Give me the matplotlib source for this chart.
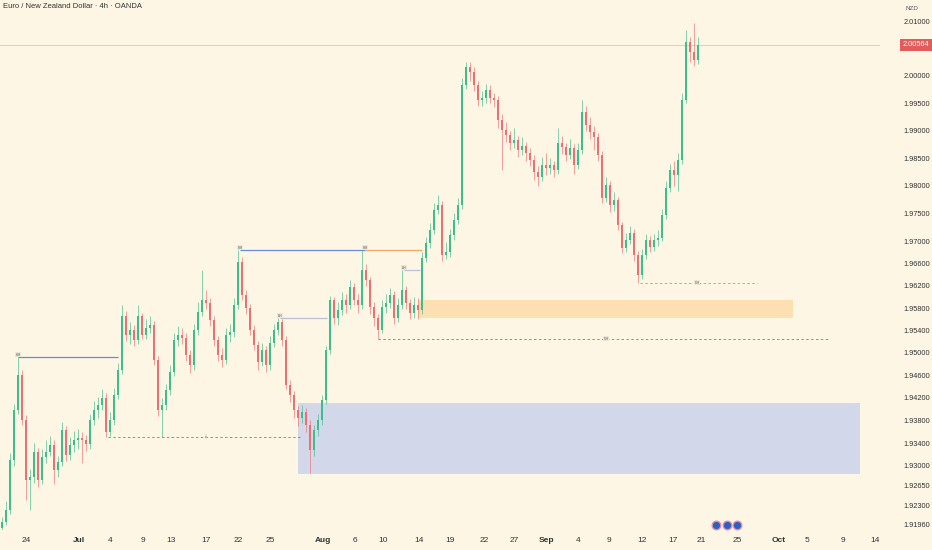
import matplotlib
matplotlib.use("Agg")
import matplotlib.pyplot as plt
from matplotlib.ticker import NullLocator, NullFormatter
from matplotlib.transforms import blended_transform_factory

plt.rcParams['font.family'] = ['Liberation Sans', 'DejaVu Sans']

# EUR/NZD 4h candles (each drawn bar here stands for ~2 real bars)
first_open = 1.9191
closes = [
    1.9201, 1.9222, 1.9310, 1.9399, 1.9461, 1.9381, 1.9275, 1.9280, 1.9324, 1.9275,
    1.9315, 1.9324, 1.9337, 1.9293, 1.9307, 1.9363, 1.9319, 1.9337, 1.9345, 1.9349,
    1.9345, 1.9338, 1.9381, 1.9399, 1.9407, 1.9420, 1.9360, 1.9381, 1.9425, 1.9470,
    1.9566, 1.9532, 1.9541, 1.9523, 1.9566, 1.9532, 1.9544, 1.9550, 1.9487, 1.9399,
    1.9407, 1.9434, 1.9466, 1.9523, 1.9532, 1.9526, 1.9496, 1.9478, 1.9541, 1.9573,
    1.9594, 1.9589, 1.9559, 1.9523, 1.9496, 1.9487, 1.9532, 1.9537, 1.9585, 1.9663,
    1.9603, 1.9580, 1.9541, 1.9514, 1.9484, 1.9505, 1.9478, 1.9518, 1.9541, 1.9555,
    1.9523, 1.9443, 1.9425, 1.9399, 1.9384, 1.9395, 1.9372, 1.9328, 1.9363, 1.9381,
    1.9416, 1.9505, 1.9594, 1.9562, 1.9577, 1.9594, 1.9585, 1.9618, 1.9594, 1.9585,
    1.9648, 1.9630, 1.9582, 1.9562, 1.9541, 1.9582, 1.9589, 1.9603, 1.9562, 1.9585,
    1.9612, 1.9589, 1.9571, 1.9585, 1.9577, 1.9670, 1.9697, 1.9720, 1.9756, 1.9765,
    1.9675, 1.9681, 1.9711, 1.9738, 1.9765, 1.9983, 2.0016, 2.0007, 1.9983, 1.9956,
    1.9959, 1.9974, 1.9959, 1.9956, 1.9919, 1.9901, 1.9892, 1.9877, 1.9883, 1.9865,
    1.9872, 1.9859, 1.9847, 1.9825, 1.9816, 1.9838, 1.9832, 1.9838, 1.9829, 1.9877,
    1.9870, 1.9856, 1.9868, 1.9838, 1.9865, 1.9934, 1.9910, 1.9897, 1.9888, 1.9856,
    1.9778, 1.9801, 1.9765, 1.9774, 1.9729, 1.9688, 1.9702, 1.9715, 1.9675, 1.9639,
    1.9675, 1.9702, 1.9690, 1.9702, 1.9706, 1.9747, 1.9796, 1.9829, 1.9819, 1.9847,
    1.9956, 2.0061, 2.0043, 2.0029, 2.00564,
]
highs = [
    1.9210, 1.9238, 1.9322, 1.9410, 1.9493, 1.9470, 1.9390, 1.9295, 1.9340, 1.9332,
    1.9330, 1.9345, 1.9352, 1.9345, 1.9318, 1.9378, 1.9370, 1.9350, 1.9362, 1.9365,
    1.9360, 1.9355, 1.9392, 1.9415, 1.9422, 1.9436, 1.9428, 1.9395, 1.9438, 1.9482,
    1.9585, 1.9575, 1.9555, 1.9550, 1.9585, 1.9572, 1.9560, 1.9565, 1.9556, 1.9495,
    1.9420, 1.9445, 1.9478, 1.9535, 1.9548, 1.9545, 1.9535, 1.9505, 1.9552, 1.9590,
    1.9648, 1.9612, 1.9598, 1.9565, 1.9530, 1.9508, 1.9545, 1.9552, 1.9598, 1.9684,
    1.9672, 1.9612, 1.9588, 1.9550, 1.9522, 1.9518, 1.9512, 1.9530, 1.9552, 1.9562,
    1.9560, 1.9530, 1.9452, 1.9432, 1.9405, 1.9408, 1.9402, 1.9380, 1.9372, 1.9392,
    1.9425, 1.9512, 1.9602, 1.9600, 1.9590, 1.9608, 1.9605, 1.9630, 1.9625, 1.9605,
    1.9684, 1.9658, 1.9636, 1.9590, 1.9570, 1.9595, 1.9605, 1.9615, 1.9610, 1.9598,
    1.9648, 1.9620, 1.9596, 1.9600, 1.9598, 1.9680, 1.9708, 1.9732, 1.9768, 1.9783,
    1.9772, 1.9698, 1.9722, 1.9750, 1.9778, 1.9995, 2.0025, 2.0025, 2.0015, 1.9990,
    1.9972, 1.9985, 1.9982, 1.9968, 1.9962, 1.9930, 1.9915, 1.9900, 1.9905, 1.9890,
    1.9888, 1.9880, 1.9868, 1.9855, 1.9835, 1.9852, 1.9860, 1.9850, 1.9845, 1.9905,
    1.9890, 1.9878, 1.9885, 1.9875, 1.9878, 1.9956, 1.9945, 1.9925, 1.9908, 1.9895,
    1.9862, 1.9815, 1.9808, 1.9788, 1.9780, 1.9735, 1.9715, 1.9728, 1.9722, 1.9682,
    1.9685, 1.9712, 1.9710, 1.9712, 1.9720, 1.9758, 1.9808, 1.9840, 1.9845, 1.9860,
    1.9968, 2.0083, 2.0070, 2.0096, 2.0070,
]
lows = [
    1.9185, 1.9196, 1.9215, 1.9300, 1.9392, 1.9372, 1.9240, 1.9222, 1.9270, 1.9262,
    1.9268, 1.9305, 1.9318, 1.9268, 1.9280, 1.9300, 1.9308, 1.9310, 1.9325, 1.9330,
    1.9305, 1.9326, 1.9330, 1.9372, 1.9385, 1.9398, 1.9351, 1.9352, 1.9372, 1.9418,
    1.9462, 1.9522, 1.9515, 1.9512, 1.9515, 1.9525, 1.9525, 1.9535, 1.9478, 1.9388,
    1.9351, 1.9398, 1.9425, 1.9458, 1.9512, 1.9515, 1.9485, 1.9465, 1.9470, 1.9532,
    1.9565, 1.9578, 1.9548, 1.9512, 1.9485, 1.9475, 1.9480, 1.9520, 1.9528, 1.9578,
    1.9595, 1.9570, 1.9532, 1.9505, 1.9470, 1.9476, 1.9466, 1.9470, 1.9510, 1.9532,
    1.9512, 1.9435, 1.9412, 1.9385, 1.9370, 1.9375, 1.9360, 1.9287, 1.9318, 1.9352,
    1.9372, 1.9410, 1.9498, 1.9552, 1.9550, 1.9568, 1.9572, 1.9578, 1.9585, 1.9572,
    1.9578, 1.9620, 1.9570, 1.9548, 1.9525, 1.9535, 1.9572, 1.9580, 1.9552, 1.9555,
    1.9578, 1.9578, 1.9560, 1.9562, 1.9560, 1.9570, 1.9662, 1.9688, 1.9712, 1.9748,
    1.9665, 1.9668, 1.9672, 1.9702, 1.9730, 1.9758, 1.9975, 1.9990, 1.9972, 1.9945,
    1.9945, 1.9950, 1.9950, 1.9942, 1.9905, 1.9829, 1.9880, 1.9865, 1.9868, 1.9852,
    1.9855, 1.9845, 1.9835, 1.9810, 1.9800, 1.9808, 1.9820, 1.9822, 1.9815, 1.9822,
    1.9858, 1.9845, 1.9848, 1.9822, 1.9830, 1.9858, 1.9900, 1.9885, 1.9865, 1.9845,
    1.9768, 1.9770, 1.9752, 1.9755, 1.9720, 1.9678, 1.9680, 1.9695, 1.9665, 1.9625,
    1.9632, 1.9668, 1.9680, 1.9682, 1.9692, 1.9700, 1.9740, 1.9788, 1.9800, 1.9790,
    1.9840, 1.9950, 2.0025, 2.0018, 2.0022,
]
last_price = 2.00564

# time axis (bar index of each date label)
date_pos = [6.0, 19.25, 27, 35.25, 42.25, 51, 59, 67, 80.25, 88.25, 95.25, 104.25,
            112, 120.5, 128, 136, 144, 151.75, 160, 167.75, 174.75, 183.75, 194.25,
            201.25, 210.25, 218.25]
date_labels = ['24', 'Jul', '4', '9', '13', '17', '22', '25', 'Aug', '6', '10', '14',
               '19', '22', '27', 'Sep', '4', '9', '12', '17', '21', '25', 'Oct',
               '5', '9', '14']
months = ['Jul', 'Aug', 'Sep', 'Oct']

price_ticks = [2.01, 2.0, 1.995, 1.99, 1.985, 1.98, 1.975, 1.97, 1.966, 1.962, 1.958,
               1.954, 1.95, 1.946, 1.942, 1.938, 1.934, 1.93, 1.9265, 1.923, 1.9196]

# drawn levels: (start bar, end bar, price)
solid_levels = [(4, 29, 1.9493, '#6d8ad6'), (59.5, 90.75, 1.9684, '#6d8ad6'),
                (90.75, 105, 1.9684, '#f0a860'), (69.5, 81.25, 1.9562, '#b9c0d8'),
                (100.5, 104.5, 1.9648, '#b9c0d8')]
dashed_levels = [(26.5, 74.5, 1.9351, '#8b909c'), (94, 207, 1.9525, '#8b909c'),
                 (159.5, 188.75, 1.9625, '#c9a57c')]
tag_points = [(4, 1.9497, 'HH'), (59.5, 1.9688, 'HH'), (90.75, 1.9688, 'HH'),
              (69.5, 1.9566, 'LH'), (100.5, 1.9652, 'LH'),
              (51, 1.9351, 'x'), (151, 1.9525, 'CH'), (173.75, 1.9625, 'CH')]
# zones: (start bar, end bar, low, high)
blue_zone = (74, 214.5, 1.9286, 1.9411)
orange_zone = (104, 197.75, 1.9562, 1.9594)
event_bars = [178.5, 181.25, 183.75]

bg = '#fdf6e4'
up_col = '#3dbd8d'
down_col = '#ee6f6f'

fig = plt.figure(figsize=(9.32, 5.5), dpi=100, facecolor=bg)
ax = fig.add_axes([0, 20 / 550, 880 / 932, 530 / 550], facecolor=bg)
ax.set_yscale('log')

# zones first so candles sit on top
ax.fill_between([blue_zone[0], blue_zone[1]], blue_zone[2], blue_zone[3],
                color='#d3d7ea', lw=0, zorder=1)
ax.fill_between([orange_zone[0], orange_zone[1]], orange_zone[2], orange_zone[3],
                color='#fde0b2', lw=0, zorder=1)

ax.axhline(last_price, color='#f2c5b2', lw=0.7, zorder=1)

for x0, x1, p, c in solid_levels:
    ax.hlines(p, x0, x1, color=c, lw=0.9, zorder=2)
for x0, x1, p, c in dashed_levels:
    ax.hlines(p, x0, x1, color=c, lw=0.7, linestyles=(0, (2.5, 2.5)), zorder=2)
for x, p, t in tag_points:
    ax.text(x, p, t, fontsize=2.6, color='#555555', ha='center', va='center', zorder=4,
            bbox=dict(boxstyle='square,pad=0.15', fc='#ece6d6', ec='none'))

opens = [first_open] + closes[:-1]
idx = list(range(len(closes)))
cols = [up_col if c >= o else down_col for o, c in zip(opens, closes)]
ax.vlines(idx, lows, highs, colors=cols, lw=0.6, alpha=0.75, zorder=3)
bottoms = [min(o, c) for o, c in zip(opens, closes)]
heights = [max(abs(c - o), 0.00008) for o, c in zip(opens, closes)]
ax.bar(idx, heights, bottom=bottoms, width=0.65, color=cols, lw=0, zorder=3)

ax.set_xlim(-0.5, 219.5)
ax.set_ylim(1.91871, 2.01386)

ax.set_xticks(date_pos)
ax.set_xticklabels(date_labels)
for lab in ax.get_xticklabels():
    if lab.get_text() in months:
        lab.set_fontweight('bold')
ax.tick_params(axis='x', length=0, pad=5, labelsize=6, colors='#333333')

ax.yaxis.tick_right()
ax.set_yticks(price_ticks)
ax.set_yticklabels(['%.5f' % p for p in price_ticks])
ax.yaxis.set_minor_locator(NullLocator())
ax.yaxis.set_minor_formatter(NullFormatter())
ax.tick_params(axis='y', length=0, pad=17, labelsize=5.3, colors='#333333')

for s in ax.spines.values():
    s.set_visible(False)

# event markers at the bottom
trans_x = ax.get_xaxis_transform()
ax.scatter(event_bars, [0.01] * len(event_bars), s=38, c='#2c5fc4', edgecolors='#e98aa2',
           linewidths=1.0, transform=trans_x, zorder=5, clip_on=False)

# current price tag
trans_p = blended_transform_factory(ax.transAxes, ax.transData)
ax.text(1 + 23 / 880, last_price, '%.5f' % last_price, transform=trans_p, fontsize=5.3,
        color='white', ha='left', va='center', zorder=6,
        bbox=dict(boxstyle='square,pad=0.35', fc='#e35b5b', ec='none'))

fig.text(3 / 932, 1 - 7 / 550, 'Euro / New Zealand Dollar \u00b7 4h \u00b7 OANDA',
         fontsize=5.5, color='#333333', ha='left', va='center')
fig.text(905 / 932, 1 - 8 / 550, 'NZD', fontsize=4.5, color='#555555', ha='left', va='center')

fig.savefig('out.png', dpi=100, facecolor=bg)
